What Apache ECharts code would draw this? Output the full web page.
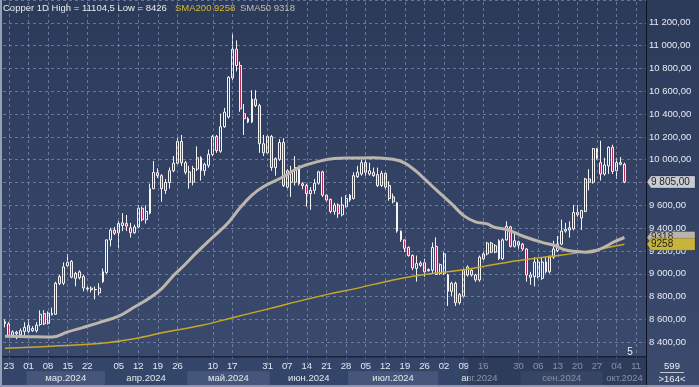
<!DOCTYPE html>
<html><head><meta charset="utf-8">
<script src="https://cdn.jsdelivr.net/npm/echarts@6/dist/echarts.min.js"></script>
<style>html,body{margin:0;padding:0;background:#33436a;overflow:hidden}#c{width:699px;height:387px}</style>
</head><body><div id="c"></div>
<script>
// ---- data ----
const dates = ['02-22','02-23','02-26','02-27','02-28','02-29',
'03-01','03-04','03-05','03-06','03-07','03-08','03-11','03-12','03-13','03-14','03-15','03-18','03-19','03-20','03-21','03-22','03-25','03-26','03-27','03-28',
'04-02','04-03','04-04','04-05','04-08','04-09','04-10','04-11','04-12','04-15','04-16','04-17','04-18','04-19','04-22','04-23','04-24','04-25','04-26','04-29','04-30',
'05-01','05-02','05-03','05-07','05-08','05-09','05-10','05-13','05-14','05-15','05-16','05-17','05-20','05-21','05-22','05-23','05-24','05-28','05-29','05-30','05-31',
'06-03','06-04','06-05','06-06','06-07','06-10','06-11','06-12','06-13','06-14','06-17','06-18','06-19','06-20','06-21','06-24','06-25','06-26','06-27','06-28',
'07-01','07-02','07-03','07-04','07-05','07-08','07-09','07-10','07-11','07-12','07-15','07-16','07-17','07-18','07-19','07-22','07-23','07-24','07-25','07-26','07-29','07-30','07-31',
'08-01','08-02','08-05','08-06','08-07','08-08','08-09','08-12','08-13','08-14','08-15','08-16','08-19','08-20','08-21','08-22','08-23','08-27','08-28','08-29','08-30',
'09-02','09-03','09-04','09-05','09-06','09-09','09-10','09-11','09-12','09-13','09-16','09-17','09-18','09-19','09-20','09-23','09-24','09-25','09-26','09-27','09-30',
'10-01','10-02','10-03','10-04','10-07','10-08','10-09','10-10','10-11','10-14','10-15'];

// [open, close, low, high]
const candles = [
[8565,8580,8530,8600],[8560,8460,8445,8575],[8462,8490,8450,8505],[8475,8488,8426,8500],[8465,8500,8450,8520],
[8495,8530,8460,8575],[8495,8545,8480,8600],[8500,8520,8490,8540],[8500,8550,8485,8575],[8555,8645,8540,8680],
[8650,8560,8550,8680],[8565,8655,8555,8670],[8640,8652,8635,8703],[8645,8917,8640,8930],[8975,8915,8900,8990],
[8917,9060,8900,9100],[9070,9100,9060,9175],[9108,8970,8960,9120],[8960,9003,8890,9017],[8965,9017,8950,9030],
[8975,8875,8846,8990],[8874,8866,8846,8889],[8860,8874,8837,8889],[8860,8862,8775,8889],[8832,8874,8810,8917],
[8930,9017,8920,9045],[9011,9297,9000,9300],[9297,9383,9240,9403],[9383,9354,9340,9410],[9360,9440,9227,9460],
[9423,9446,9374,9531],[9440,9417,9374,9515],[9403,9360,9317,9446],[9360,9410,9350,9430],[9410,9574,9400,9600],
[9574,9474,9460,9590],[9474,9546,9440,9600],[9531,9746,9520,9790],[9746,9889,9740,9989],[9885,9860,9840,9925],
[9860,9746,9631,9874],[9731,9800,9700,9830],[9800,9903,9746,9931],[9903,9969,9890,10031],[9969,10160,9960,10189],
[10160,9974,9946,10217],[9974,9890,9870,9990],[9894,9803,9746,9946],[9803,9923,9775,9946],[9917,10017,9900,10117],
[10017,9903,9817,10031],[9903,9960,9860,9974],[9950,10046,9930,10089],[10046,10203,10030,10217],[10203,10080,10060,10217],
[10074,10289,10060,10403],[10289,10417,10280,10454],[10374,10723,10360,10731],[10717,10969,10700,11104.5],[10969,10826,10774,11046],
[10826,10446,10420,10860],[10403,10360,10217,10489],[10331,10360,10320,10374],[10331,10531,10320,10609],[10531,10474,10460,10609],
[10474,10140,10060,10490],[10140,10060,10031,10217],[10060,10203,10050,10217],[10203,9931,9903,10217],[9931,10009,9860,10020],
[10003,10151,9990,10180],[10151,9774,9760,10189],[9760,9903,9746,9917],[9803,9903,9674,9946],[9803,9931,9774,10031],
[9946,9789,9774,9946],[9789,9774,9740,9803],[9774,9703,9589,9789],[9703,9731,9560,9760],[9731,9794,9700,9831],
[9794,9894,9780,9903],[9894,9689,9674,9903],[9689,9646,9630,9700],[9651,9546,9530,9660],[9546,9603,9517,9623],
[9603,9526,9489,9617],[9517,9603,9503,9674],[9589,9660,9580,9689],[9646,9689,9630,9700],[9660,9860,9650,9889],
[9851,9889,9840,9946],[9874,9974,9860,10003],[9974,9889,9860,10003],[9874,9903,9860,9974],[9889,9860,9850,9931],
[9869,9774,9760,9931],[9774,9880,9760,9903],[9880,9760,9740,9889],[9774,9660,9640,9811],[9674,9631,9617,9703],
[9623,9374,9360,9631],[9374,9297,9280,9380],[9297,9223,9189,9300],[9231,9160,9150,9240],[9160,9051,9031,9170],
[9046,9089,8931,9160],[9093,9074,9060,9110],[9097,9017,8974,9131],[9026,9037,9020,9046],[9031,9231,9003,9274],
[9240,8994,8989,9320],[9003,9080,8990,9090],[9003,9174,8990,9189],[8989,8846,8717,9000],[8846,8917,8800,8930],
[8917,8746,8717,8931],[8746,8817,8730,8831],[8803,9031,8790,9046],[8989,9060,8975,9074],[9031,8989,8975,9040],
[8946,8989,8930,9000],[8946,9146,8930,9160],[9131,9174,9120,9189],[9174,9269,9160,9280],[9269,9189,9180,9280],
[9189,9246,9180,9260],[9289,9131,9120,9303],[9131,9297,9120,9310],[9297,9417,9290,9460],[9411,9240,9230,9420],
[9240,9289,9230,9360],[9251,9280,9217,9290],[9260,9217,9200,9270],[9217,8989,8931,9223],[8969,8989,8903,9017],
[8974,9103,8889,9146],[8974,9103,8960,9131],[8960,9103,8946,9146],[9103,9017,9003,9146],[9017,9146,9003,9160],
[9146,9217,9130,9289],[9203,9260,9190,9331],[9260,9374,9250,9474],[9374,9389,9360,9446],[9383,9403,9317,9460],
[9394,9537,9380,9603],[9537,9517,9500,9603],[9489,9554,9383,9560],[9546,9831,9540,9840],[9831,9803,9731,9917],
[9803,10097,9790,10103],[10097,10011,10000,10103],[9974,9874,9817,10166],[9874,9954,9860,10017],[9946,10109,9874,10117],
[10109,9897,9874,10131],[9903,9974,9831,10017],[9974,9960,9950,10023],[9960,9805,9794,9974]];

const sma50 = [['02-22',8452],['03-01',8448],['03-11',8445],['03-15',8490],['03-21',8530],['03-27',8572],
['04-05',8628],['04-11',8708],['04-17',8790],['04-22',8870],['04-25',8985],['04-29',9050],['05-03',9189],
['05-10',9320],['05-16',9450],['05-21',9580],['05-24',9690],['05-30',9765],['06-06',9850],['06-12',9930],
['06-19',9985],['06-25',10010],['07-01',10015],['07-09',10018],['07-16',10003],['07-19',9970],['07-24',9895],
['07-26',9831],['07-31',9735],['08-06',9610],['08-09',9510],['08-14',9455],['08-19',9437],['08-21',9405],
['08-27',9388],['09-02',9331],['09-09',9275],['09-12',9250],['09-17',9208],['09-20',9195],['09-24',9189],
['09-26',9195],['10-01',9235],['10-03',9274],['10-08',9318]];

const sma200 = [['02-22',8346],['03-11',8365],['03-27',8389],['04-11',8431],['04-23',8489],['05-07',8546],
['05-17',8615],['05-31',8690],['06-12',8760],['06-21',8817],['07-03',8874],['07-16',8946],['07-26',8994],
['08-08',9031],['08-19',9070],['08-30',9117],['09-12',9155],['09-24',9194],['10-08',9258]];

const weekLabels = ['02-23','03-01','03-08','03-15','03-22','04-05','04-12','04-19','04-26','05-10','05-17','05-31',
'06-07','06-14','06-21','06-28','07-05','07-12','07-19','07-26','08-02','08-09','08-16','08-30','09-06','09-13',
'09-20','09-27','10-04','10-11'];

const monthNames = {'03':'мар.2024','04':'апр.2024','05':'май.2024','06':'июн.2024','07':'июл.2024','08':'авг.2024','09':'сен.2024','10':'окт.2024'};
const shadedMonths = ['03','05','07','09'];
const titleText = 'Copper 1D High = 11104,5 Low = 8426';
const sma200Text = 'SMA200 9258';
const sma50Text = 'SMA50 9318';
const cornerTop = '599', cornerBottom = '>164<', cornerMark = '5';
const yMin = 8200, yMax = 11400, yStep = 200;

// ---- chart ----
const FONT = 'Liberation Sans, Arial, sans-serif';
const weekSet = new Set(weekLabels);
function fmtPrice(v){const p=v.toFixed(2).split('.');return p[0].replace(/\B(?=(\d{3})+(?!\d))/g,' ')+','+p[1];}
const chart = echarts.init(document.getElementById('c'));
const gridDash = {type:[3,3], color:'rgba(150,165,200,0.55)', width:1};
chart.setOption({
  animation:false,
  backgroundColor:{type:'linear',x:0,y:0,x2:0,y2:1,colorStops:[{offset:0,color:'#2c3a5a'},{offset:1,color:'#3b4b6e'}]},
  grid:{left:3,right:53,top:-8.3,bottom:22},
  xAxis:{type:'category',data:dates,boundaryGap:true,offset:-7.5,z:6,
    axisLine:{show:false},axisTick:{show:false},splitLine:{show:false},
    axisLabel:{interval:(i,v)=>weekSet.has(v),formatter:v=>v.slice(3),margin:4,fontSize:9.5,fontFamily:FONT,
      color:(v,i)=> (i>=119?'#8592ab':'#e4e8ef')}},
  yAxis:{type:'value',position:'right',min:yMin,max:yMax,interval:yStep,z:0,
    axisLine:{show:false},axisTick:{show:false},
    axisLabel:{margin:3,fontSize:9.5,fontFamily:FONT,color:'#e8ecf2',formatter:v=>(v<8400||v>11200)?'':fmtPrice(v)},
    splitLine:{show:true,lineStyle:gridDash}},
  series:[
    {type:'line',data:[],z:1,silent:true,
     markLine:{silent:true,symbol:['none','none'],label:{show:false},lineStyle:gridDash,animation:false,
       data:weekLabels.map(d=>({xAxis:d}))}},
    {type:'candlestick',data:candles,barWidth:2.4,z:2,
     itemStyle:{color:'rgba(0,0,0,0)',color0:'#b8294f',borderColor:'#f4f4f4',borderColor0:'#f4f4f4',borderColorDoji:'#f4f4f4',borderWidth:1}},
    {type:'line',data:sma200,smooth:0.4,showSymbol:false,z:3,lineStyle:{color:'#c9a824',width:1.5}},
    {type:'line',data:sma50,smooth:0.4,showSymbol:false,z:3,lineStyle:{color:'#bdb6ad',width:3}}
  ]
});

// ---- decorations positioned through the axes ----
const px = d => chart.convertToPixel({xAxisIndex:0}, d);
const py = v => chart.convertToPixel({yAxisIndex:0}, v);
const bw = px(dates[1]) - px(dates[0]);
const plotRight = px(dates[dates.length-1]) + bw/2;
const plotBottom = py(8400) + (8400 - 8271.4) * (py(8200)-py(8400))/200;
const els = [];
// bottom axis band
els.push({type:'rect',shape:{x:0,y:plotBottom,width:plotRight,height:387-plotBottom},style:{fill:'#34456a'},z:4});
// month bands + names
const months = {};
dates.forEach((d,i)=>{const m=d.slice(0,2); if(!months[m]) months[m]={first:i,last:i}; months[m].last=i;});
const rowY = plotBottom + 14.5;
Object.keys(months).forEach(m=>{
  const x0 = px(dates[months[m].first]) - bw/2, x1 = px(dates[months[m].last]) + bw/2;
  if (shadedMonths.includes(m)) els.push({type:'rect',shape:{x:x0,y:rowY,width:x1-x0,height:387-rowY-2},style:{fill:'#46567a'},z:4});
  if (monthNames[m]) els.push({type:'text',x:(x0+x1)/2,y:rowY+7.5,style:{text:monthNames[m],fill:'#e4e8ef',font:'9.5px '+FONT,align:'center',verticalAlign:'middle'},z:6});
});
// dim overlay on the right part of the time axis
els.push({type:'rect',shape:{x:468,y:plotBottom+0.5,width:plotRight-468,height:387-plotBottom},style:{fill:'rgba(40,52,78,0.5)'},z:7});
// frame lines
els.push({type:'line',shape:{x1:0,y1:plotBottom,x2:plotRight,y2:plotBottom},style:{stroke:'#0c1220',lineWidth:1},z:8});
els.push({type:'line',shape:{x1:plotRight+0.5,y1:0,x2:plotRight+0.5,y2:387},style:{stroke:'#0c1220',lineWidth:1},z:8});
els.push({type:'rect',shape:{x:0,y:0,width:2,height:387},style:{fill:'#96a0b4'},z:8});
els.push({type:'rect',shape:{x:0,y:385,width:699,height:2},style:{fill:'#8e98ad'},z:8});
// price tags
function tag(v, fill, textFill, label){
  const y = py(v), h = 12, x0 = plotRight + 1;
  return {type:'group',z:9,children:[
    {type:'polygon',shape:{points:[[x0,y],[x0+4,y-h/2],[695,y-h/2],[695,y+h/2],[x0+4,y+h/2]]},style:{fill:fill,stroke:'rgba(0,0,0,0.35)',lineWidth:0.5},z:9},
    {type:'text',x:x0+4,y:y,style:{text:label,fill:textFill,font:'10px '+FONT,verticalAlign:'middle'},z:9}
  ]};
}
const last = candles[candles.length-1][1];
els.push(tag(last,'#c9cdd3','#1e1e1e',fmtPrice(last)));
els.push(tag(sma50[sma50.length-1][1],'#b9b4ac','#2a2a2a',String(sma50[sma50.length-1][1])));
els.push(tag(sma200[sma200.length-1][1],'#c8b43a','#1e1e1e',String(sma200[sma200.length-1][1])));
// header
els.push({type:'text',x:3,y:8,style:{text:titleText,fill:'#e8ebf0',font:'9.5px '+FONT,verticalAlign:'middle'},z:9});
els.push({type:'text',x:175,y:8,style:{text:sma200Text,fill:'#d9b92c',font:'9.5px '+FONT,verticalAlign:'middle'},z:9});
els.push({type:'text',x:240,y:8,style:{text:sma50Text,fill:'#c2bdb6',font:'9.5px '+FONT,verticalAlign:'middle'},z:9});
// corner
els.push({type:'text',x:630,y:352,style:{text:cornerMark,fill:'#f0f0f0',font:'10px '+FONT,align:'center',verticalAlign:'middle'},z:9});
els.push({type:'text',x:672,y:366,style:{text:cornerTop,fill:'#e8ecf2',font:'9.5px '+FONT,align:'center',verticalAlign:'middle'},z:9});
els.push({type:'line',shape:{x1:660,y1:372.5,x2:684,y2:372.5},style:{stroke:'#c0c6d2',lineWidth:1},z:9});
els.push({type:'text',x:672,y:379,style:{text:cornerBottom,fill:'#e8ecf2',font:'9.5px '+FONT,align:'center',verticalAlign:'middle'},z:9});
chart.setOption({graphic:{elements:els}});
</script>
</body></html>
